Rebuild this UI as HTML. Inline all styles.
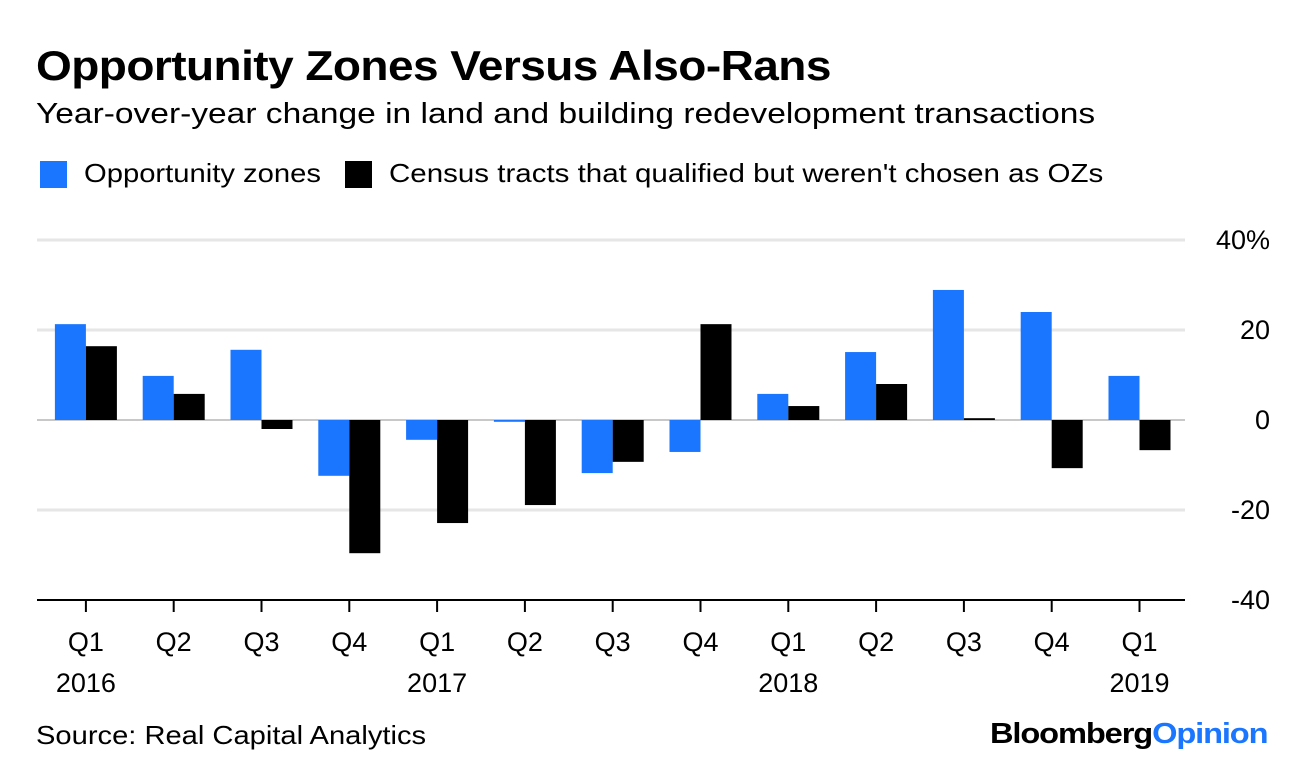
<!DOCTYPE html>
<html><head><meta charset="utf-8">
<style>
body{margin:0;width:1296px;height:768px;background:#fff;font-family:"Liberation Sans",sans-serif;overflow:hidden;position:relative}
.t{position:absolute;white-space:nowrap;color:#000;transform-origin:0 0}
</style></head><body>
<div class="t" style="left:36px;top:42px;font-size:42px;font-weight:bold;letter-spacing:-0.5px;transform:scaleX(1.095)">Opportunity Zones Versus Also-Rans</div>
<div class="t" style="left:36px;top:98px;font-size:29px;transform:scaleX(1.156)">Year-over-year change in land and building redevelopment transactions</div>
<div style="position:absolute;left:40px;top:161px;width:27px;height:27px;background:#1a75ff"></div>
<div class="t" style="left:84px;top:158px;font-size:26px;transform:scaleX(1.123)">Opportunity zones</div>
<div style="position:absolute;left:345px;top:161px;width:27px;height:27px;background:#000"></div>
<div class="t" style="left:389px;top:158px;font-size:26px;transform:scaleX(1.135)">Census tracts that qualified but weren't chosen as OZs</div>
<svg id="chart" width="1296" height="768" style="position:absolute;left:0;top:0"></svg>
<div class="t" style="left:36px;top:720px;font-size:26px;transform:scaleX(1.12)">Source: Real Capital Analytics</div>
<div class="t" style="left:990px;top:718px;font-size:29px;font-weight:bold;letter-spacing:-1px;transform:scaleX(1.125)">Bloomberg<span style="color:#1a75ff">Opinion</span></div>
<script>
const quarters=["Q1","Q2","Q3","Q4","Q1","Q2","Q3","Q4","Q1","Q2","Q3","Q4","Q1"];
const years=["2016","","","","2017","","","","2018","","","","2019"];
const ozValues=[21.3,9.8,15.6,-12.4,-4.4,-0.4,-11.8,-7.1,5.8,15.1,28.9,24,9.8];
const censusValues=[16.4,5.8,-2,-29.6,-22.9,-18.9,-9.3,21.3,3.1,8,0.4,-10.7,-6.7];
const yTicks=[40,20,0,-20,-40];
const yTickLabels=["40%","20","0","-20","-40"];
const NS="http://www.w3.org/2000/svg",svg=document.getElementById('chart');
const y=v=>420-v*4.5;
const bw=87.8,x0=42;
const xc=i=>x0+bw*(i+0.5);
function el(t,a){const e=document.createElementNS(NS,t);for(const k in a)e.setAttribute(k,a[k]);svg.appendChild(e);return e;}
yTicks.forEach((v,i)=>{
 if(v!==-40){const g=el('line',{x1:37,x2:1185,y1:y(v),y2:y(v),stroke:v===0?'#c8c8c8':'#e6e6e6','stroke-width':v===0?2:3});
 
 }
 const t=el('text',{x:1270,y:y(v)+9,'text-anchor':'end','font-size':27,'font-family':'Liberation Sans'});
 t.textContent=yTickLabels[i];
 
 
});
quarters.forEach((q,i)=>{
 const c=xc(i);
 const b1=el('rect',{x:c-31,width:31,y:Math.min(y(ozValues[i]),y(0)),height:Math.abs(y(ozValues[i])-y(0)),fill:'#1a75ff'});
 
 
 const b2=el('rect',{x:c,width:31,y:Math.min(y(censusValues[i]),y(0)),height:Math.abs(y(censusValues[i])-y(0)),fill:'#000'});
 
 
 const tk=el('line',{x1:c,x2:c,y1:600,y2:612,stroke:'#000','stroke-width':2});
 
 
 const t=el('text',{x:c,y:651,'text-anchor':'middle','font-size':27,'font-family':'Liberation Sans'});
 t.textContent=q;
 
 
 if(years[i]){const yt=el('text',{x:c,y:692,'text-anchor':'middle','font-size':27,'font-family':'Liberation Sans'});
 yt.textContent=years[i];
 
 }
});
const ax=el('line',{x1:37,x2:1185,y1:600,y2:600,stroke:'#000','stroke-width':2});


</script>
</body></html>
